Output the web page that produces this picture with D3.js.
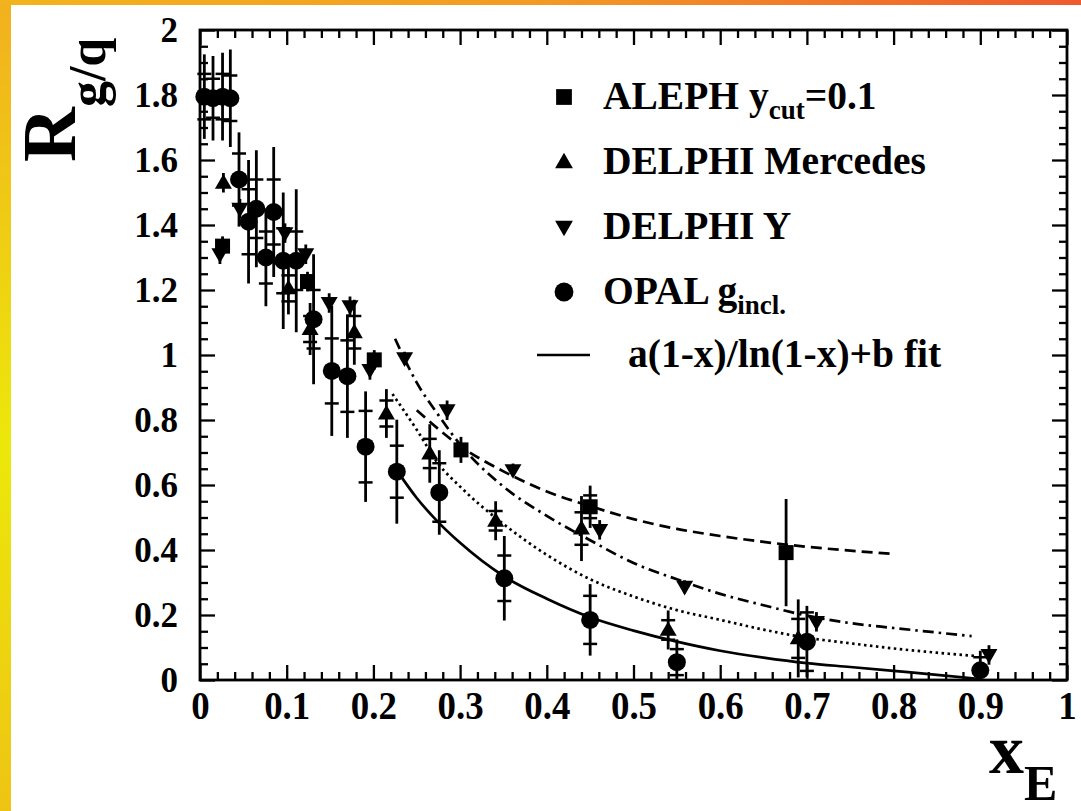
<!DOCTYPE html>
<html><head><meta charset="utf-8">
<script src="https://cdn.jsdelivr.net/npm/d3@7"></script>
<style>html,body{margin:0;padding:0;background:#fff;overflow:hidden}svg{display:block}</style>
</head><body><svg id="c" width="1081" height="811"></svg>
<script>
// ---------- data ----------
const xTickValues = [0,0.1,0.2,0.3,0.4,0.5,0.6,0.7,0.8,0.9,1];
const xTickLabels = ["0","0.1","0.2","0.3","0.4","0.5","0.6","0.7","0.8","0.9","1"];
const yTickValues = [0,0.2,0.4,0.6,0.8,1,1.2,1.4,1.6,1.8,2];
const yTickLabels = ["0","0.2","0.4","0.6","0.8","1","1.2","1.4","1.6","1.8","2"];

// [x, R, total error, stat error]
const aleph = [
  [0.026,1.335,0.03,0],[0.124,1.226,0.03,0],[0.201,0.985,0.03,0],
  [0.301,0.708,0.04,0],[0.450,0.533,0.065,0.035],[0.676,0.392,0.165,0]
];
const delphiMercedes = [
  [0.027,1.53,0.03,0],[0.102,1.205,0.08,0.04],[0.127,1.08,0.08,0.04],
  [0.178,1.07,0.1,0.05],[0.215,0.82,0.075,0.04],[0.265,0.697,0.09,0.045],
  [0.341,0.49,0.06,0.03],[0.440,0.466,0.1,0.05],[0.540,0.154,0.06,0.03],
  [0.690,0.128,0.12,0.06]
];
const delphiY = [
  [0.023,1.31,0.03,0],[0.046,1.45,0.03,0],[0.098,1.375,0.03,0],
  [0.122,1.31,0.03,0],[0.149,1.16,0.03,0],[0.173,1.15,0.03,0],
  [0.196,0.954,0.03,0],[0.236,0.99,0.02,0],[0.285,0.83,0.03,0],
  [0.361,0.646,0.02,0],[0.461,0.462,0.03,0],[0.559,0.287,0.02,0],
  [0.711,0.179,0.03,0],[0.910,0.077,0.03,0]
];
const opal = [
  [0.005,1.795,0.13,0.07],[0.015,1.79,0.13,0.06],[0.026,1.795,0.135,0.07],
  [0.035,1.79,0.15,0.07],[0.045,1.54,0.145,0.08],[0.056,1.41,0.19,0.1],
  [0.065,1.45,0.18,0.09],[0.076,1.30,0.15,0.08],[0.085,1.44,0.2,0.1],
  [0.096,1.29,0.21,0.1],[0.111,1.29,0.22,0.09],[0.131,1.11,0.2,0.09],
  [0.152,0.951,0.2,0.1],[0.170,0.935,0.19,0.11],[0.191,0.718,0.17,0.11],
  [0.227,0.641,0.16,0.08],[0.276,0.577,0.13,0.09],[0.351,0.313,0.13,0.07],
  [0.450,0.185,0.11,0.074],[0.550,0.055,0.07,0.04],[0.700,0.118,0.11,0.09],
  [0.900,0.03,0.06,0.04]
];

// fit curves [x, R]
const fitOpal = [
  [0.227,0.645],[0.25,0.56],[0.275,0.485],[0.30,0.422],[0.35,0.32],[0.40,0.25],
  [0.45,0.193],[0.50,0.152],[0.55,0.118],[0.60,0.09],[0.65,0.069],[0.70,0.052],
  [0.75,0.04],[0.80,0.028],[0.85,0.016],[0.90,0.003]
];
const fitDelphiMercedes = [
  [0.222,0.88],[0.25,0.77],[0.275,0.665],[0.30,0.595],[0.35,0.48],[0.40,0.385],
  [0.45,0.31],[0.50,0.257],[0.55,0.215],[0.60,0.185],[0.65,0.155],[0.70,0.13],
  [0.75,0.113],[0.80,0.097],[0.85,0.084],[0.894,0.074]
];
const fitDelphiY = [
  [0.225,1.05],[0.25,0.915],[0.275,0.815],[0.30,0.725],[0.35,0.595],[0.40,0.505],
  [0.45,0.43],[0.50,0.36],[0.55,0.31],[0.60,0.265],[0.65,0.23],[0.70,0.198],
  [0.75,0.175],[0.80,0.16],[0.85,0.146],[0.89,0.135]
];
const fitAleph = [
  [0.25,0.83],[0.30,0.72],[0.35,0.642],[0.40,0.58],[0.45,0.535],[0.50,0.495],
  [0.55,0.465],[0.60,0.443],[0.65,0.425],[0.70,0.41],[0.75,0.398],[0.80,0.388]
];

const legendLabels = ["ALEPH y","DELPHI Mercedes","DELPHI Y","OPAL g","a(1-x)/ln(1-x)+b fit"];

// ---------- drawing ----------
const svg = d3.select("#c");
const FONT = "'Liberation Serif','Times New Roman',serif";
const defs = svg.append("defs");
const gTop = defs.append("linearGradient").attr("id","gt").attr("x1","0").attr("x2","1").attr("y1","0").attr("y2","0");
gTop.append("stop").attr("offset","0").attr("stop-color","#f2b41c");
gTop.append("stop").attr("offset","0.5").attr("stop-color","#f39a24");
gTop.append("stop").attr("offset","1").attr("stop-color","#ef5a2e");
const gLeft = defs.append("linearGradient").attr("id","gl").attr("x1","0").attr("x2","0").attr("y1","0").attr("y2","1");
gLeft.append("stop").attr("offset","0").attr("stop-color","#f2b01e");
gLeft.append("stop").attr("offset","0.55").attr("stop-color","#ece80a");
gLeft.append("stop").attr("offset","1").attr("stop-color","#eec414");

svg.append("rect").attr("width",1081).attr("height",811).attr("fill","url(#gl)");
svg.append("rect").attr("width",1081).attr("height",5).attr("fill","url(#gt)");
svg.append("rect").attr("x",11).attr("y",5).attr("width",1070).attr("height",806).attr("fill","#fff");

const x = d3.scaleLinear().domain([0,1]).range([200,1067]);
const y = d3.scaleLinear().domain([0,2]).range([680,30]);

const xMinor = d3.range(0,1.0001,0.02).filter(v=>Math.abs(v*10-Math.round(v*10))>1e-6);
const yMinor = d3.range(0,2.0001,0.05).filter(v=>Math.abs(v*5-Math.round(v*5))>1e-6);

function styleAxis(g){
  g.select(".domain").remove();
  g.selectAll("line").attr("stroke","#000").attr("stroke-width",2.3);
}
// bottom
const axB = svg.append("g").attr("transform","translate(0,680)")
  .call(d3.axisBottom(x).tickValues(xTickValues).tickFormat((d,i)=>xTickLabels[i]).tickSizeInner(-15).tickSizeOuter(0).tickPadding(10));
styleAxis(axB);
axB.selectAll("text").attr("font-family",FONT).attr("font-weight","bold").attr("font-size",41)
  .attr("fill","#000").attr("dy","0.71em").attr("transform","scale(0.9,1)");
svg.append("g").attr("transform","translate(0,680)")
  .call(d3.axisBottom(x).tickValues(xMinor).tickFormat("").tickSizeInner(-8).tickSizeOuter(0)).call(styleAxis);
// top
svg.append("g").attr("transform","translate(0,30)")
  .call(d3.axisTop(x).tickValues(xTickValues).tickFormat("").tickSizeInner(-15).tickSizeOuter(0)).call(styleAxis);
svg.append("g").attr("transform","translate(0,30)")
  .call(d3.axisTop(x).tickValues(xMinor).tickFormat("").tickSizeInner(-8).tickSizeOuter(0)).call(styleAxis);
// left
const axL = svg.append("g").attr("transform","translate(200,0)")
  .call(d3.axisLeft(y).tickValues(yTickValues).tickFormat((d,i)=>yTickLabels[i]).tickSizeInner(-15).tickSizeOuter(0).tickPadding(22));
styleAxis(axL);
axL.selectAll("text").attr("font-family",FONT).attr("font-weight","bold").attr("font-size",35).attr("fill","#000");
svg.append("g").attr("transform","translate(200,0)")
  .call(d3.axisLeft(y).tickValues(yMinor).tickFormat("").tickSizeInner(-8).tickSizeOuter(0)).call(styleAxis);
// right
svg.append("g").attr("transform","translate(1067,0)")
  .call(d3.axisRight(y).tickValues(yTickValues).tickFormat("").tickSizeInner(-15).tickSizeOuter(0)).call(styleAxis);
svg.append("g").attr("transform","translate(1067,0)")
  .call(d3.axisRight(y).tickValues(yMinor).tickFormat("").tickSizeInner(-8).tickSizeOuter(0)).call(styleAxis);

// frame
svg.append("rect").attr("x",x(0)).attr("y",y(2)).attr("width",x(1)-x(0)).attr("height",y(0)-y(2))
  .attr("fill","none").attr("stroke","#000").attr("stroke-width",2.8);

// fit curves
const line = d3.line().x(d=>x(d[0])).y(d=>y(d[1])).curve(d3.curveMonotoneX);
const curves = [
  [fitAleph,"11,6"],[fitDelphiY,"11,5,2.5,5"],[fitDelphiMercedes,"2.5,3.5"],[fitOpal,null]
];
curves.forEach(([data,dash])=>{
  const p = svg.append("path").attr("d",line(data)).attr("fill","none").attr("stroke","#000").attr("stroke-width",2.7);
  if(dash) p.attr("stroke-dasharray",dash);
});

// error bars & markers
const plotG = svg.append("g");
function errorBars(data){
  const g = plotG.append("g");
  data.forEach(d=>{
    const lo = Math.max(0,d[1]-d[2]), hi = d[1]+d[2];
    g.append("line").attr("x1",x(d[0])).attr("x2",x(d[0])).attr("y1",y(lo)).attr("y2",y(hi))
      .attr("stroke","#000").attr("stroke-width",2.8);
    if(d[3]>0){
      [d[1]-d[3],d[1]+d[3]].forEach(v=>{
        if(v<0) return;
        g.append("line").attr("x1",x(d[0])-7).attr("x2",x(d[0])+7).attr("y1",y(v)).attr("y2",y(v))
          .attr("stroke","#000").attr("stroke-width",2.5);
      });
    }
  });
}
[aleph,delphiMercedes,delphiY,opal].forEach(errorBars);

function drawMarkers(data,kind,g,size){
  data.forEach(d=>drawMarker(g,kind,x(d[0]),y(d[1]),size||1));
}
function drawMarker(g,kind,cx,cy,s){
  if(kind==="square"){
    g.append("rect").attr("x",cx-7.5*s).attr("y",cy-7.5*s).attr("width",15*s).attr("height",15*s).attr("fill","#000");
  } else if(kind==="up"){
    g.append("path").attr("d",d3.symbol().type(d3.symbolTriangle).size(125*s*s)())
      .attr("transform",`translate(${cx},${cy+1})`).attr("fill","#000");
  } else if(kind==="down"){
    g.append("path").attr("d",d3.symbol().type(d3.symbolTriangle).size(125*s*s)())
      .attr("transform",`translate(${cx},${cy-1}) rotate(180)`).attr("fill","#000");
  } else {
    g.append("circle").attr("cx",cx).attr("cy",cy).attr("r",9*s).attr("fill","#000");
  }
}
drawMarkers(aleph,"square",plotG);
drawMarkers(delphiMercedes,"up",plotG);
drawMarkers(delphiY,"down",plotG);
drawMarkers(opal,"circle",plotG);

// legend
const lg = svg.append("g").attr("font-family",FONT).attr("font-weight","bold").attr("fill","#000");
const legendKinds = ["square","up","down","circle","line"];
const legendY = [97,162,227,292,355];
legendKinds.forEach((k,i)=>{
  if(k==="line"){
    lg.append("line").attr("x1",537).attr("x2",590).attr("y1",legendY[i]).attr("y2",legendY[i])
      .attr("stroke","#000").attr("stroke-width",2.7);
  } else drawMarker(lg,k,564,legendY[i],1.05);
});
function legendText(i,xPos,main,sub,after){
  const t = lg.append("text").attr("x",xPos).attr("y",legendY[i]+12).attr("font-size",39.5);
  t.append("tspan").text(main);
  if(sub){
    t.append("tspan").attr("font-size",27).attr("dy",10).text(sub);
    if(after) t.append("tspan").attr("font-size",39.5).attr("dy",-10).text(after);
  }
}
legendText(0,603,legendLabels[0],"cut","=0.1");
legendText(1,603,legendLabels[1]);
legendText(2,603,legendLabels[2]);
legendText(3,603,legendLabels[3],"incl.");
legendText(4,628,legendLabels[4]);

// axis titles
const tx = svg.append("text").attr("font-family",FONT).attr("font-weight","bold").attr("fill","#000")
  .attr("x",989).attr("y",773);
tx.append("tspan").attr("font-size",70).text("x");
tx.append("tspan").attr("font-size",50).attr("dy",27).text("E");

const ty = svg.append("text").attr("font-family",FONT).attr("font-weight","bold").attr("fill","#000")
  .attr("transform","translate(75,162) rotate(-90)");
ty.append("tspan").attr("font-size",76).text("R");
ty.append("tspan").attr("font-size",52).attr("dy",30).text("g/q");
</script></body></html>
